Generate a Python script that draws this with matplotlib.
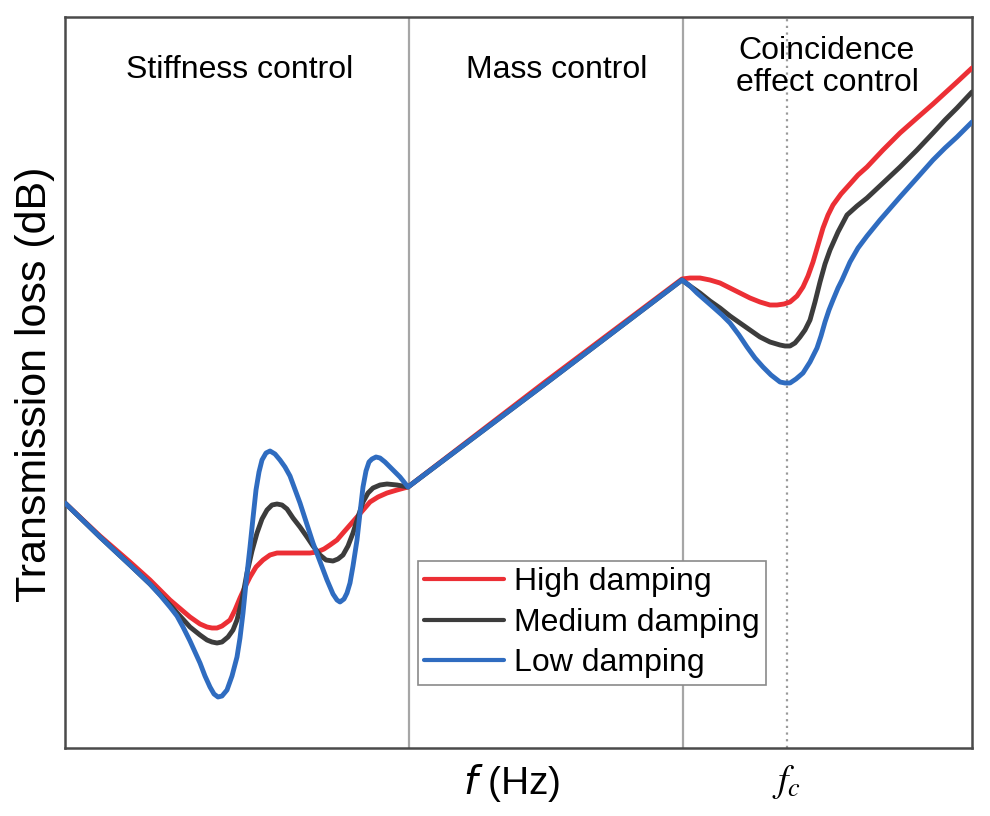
import matplotlib
matplotlib.use("Agg")
import matplotlib.pyplot as plt

plt.rcParams['font.family'] = ['Liberation Sans', 'DejaVu Sans']
plt.rcParams['mathtext.fontset'] = 'stix'

# Frequency axis (arbitrary units) and transmission loss (arbitrary units)
high_f = [65, 100, 130, 150, 170, 190, 200, 207, 212, 217, 222, 226, 230, 235, 240, 245, 250, 256, 263, 270, 277,
          290, 300, 310, 317, 324, 330, 337, 343, 350, 357, 364, 370, 378, 387, 397, 408,
          545, 682, 690, 700, 710, 720, 730, 740, 750, 760, 770, 777, 784, 790, 797, 803, 808, 813, 818, 823, 828,
          833, 841, 850, 858, 867, 883, 900, 917, 933, 945, 957, 972]
high_tl = [245, 212, 186, 168, 148, 131, 124, 121, 120, 120, 122, 125, 128, 138, 150, 161, 171, 181, 188, 193, 195,
           195, 195, 195, 196, 199, 203, 208, 215, 223, 231, 239, 246, 251, 255, 258, 261,
           366, 469, 470, 470, 468, 465, 460, 455, 450, 446, 443, 443, 444, 446, 452, 461, 472, 486, 503, 520, 533,
           543, 554, 564, 573, 581, 598, 615, 630, 644, 655, 666, 680]

med_f = [65, 100, 130, 150, 170, 190, 200, 207, 212, 217, 222, 228, 233, 237, 242, 247, 252, 257, 262, 267, 272,
         277, 282, 287, 293, 300, 307, 313, 320, 326, 333, 338, 343, 348, 353, 358, 363, 368, 373, 380, 387, 397, 408,
         545, 682, 690, 700, 710, 720, 730, 740, 750, 760, 770, 780, 785, 790, 795, 800, 805, 810, 815, 820, 825,
         830, 838, 847, 857, 867, 883, 900, 917, 933, 945, 957, 972]
med_tl = [245, 211, 183, 164, 143, 121, 113, 108, 106, 105, 106, 111, 118, 128, 148, 175, 197, 215, 229, 238, 243,
          244, 243, 239, 230, 221, 211, 202, 193, 188, 187, 189, 193, 202, 215, 231, 246, 255, 260, 263, 264, 263, 261,
          364, 468, 462, 455, 447, 440, 432, 425, 418, 411, 406, 403, 402, 402, 405, 411, 418, 428, 446, 466, 484,
          498, 516, 533, 542, 550, 565, 581, 598, 615, 628, 640, 656]

low_f = [65, 100, 130, 150, 160, 170, 177, 183, 190, 200, 205, 210, 214, 218, 222, 227, 232, 237, 240, 243, 246,
         250, 253, 256, 259, 262, 266, 270, 275, 280, 285, 290, 300, 313, 327, 333, 337, 340, 344, 347, 350, 353,
         357, 360, 363, 366, 369, 372, 376, 380, 385, 390, 400, 408,
         545, 682, 690, 697, 705, 713, 722, 730, 739, 747, 755, 763, 771, 780, 785, 790, 796, 803, 810, 817, 821,
         825, 829, 833, 838, 842, 850, 858, 867, 880, 900, 917, 933, 945, 957, 972]
low_tl = [245, 211, 183, 164, 153, 141, 132, 121, 107, 85, 72, 61, 54, 51, 52, 58, 72, 91, 110, 135, 165,
          201, 230, 258, 276, 288, 295, 297, 294, 288, 281, 272, 245, 205, 168, 154, 148, 146, 149, 155, 165, 182,
          208, 235, 261, 277, 286, 289, 291, 290, 286, 281, 271, 261,
          364, 468, 462, 455, 448, 441, 433, 425, 413, 401, 390, 381, 373, 366, 365, 365, 369, 375, 386, 400, 412,
          426, 438, 448, 460, 468, 486, 500, 512, 528, 551, 570, 588, 600, 611, 626]

region_bounds = [409, 683]
f_c = 787
region_labels = ["Stiffness control", "Mass control", "Coincidence\neffect control"]
region_label_x = [240, 557, 827]
series_labels = ["High damping", "Medium damping", "Low damping"]
colors = ["#ec2f35", "#3c3c3c", "#2f6cc0"]

fig = plt.figure(figsize=(9.9, 8.16), dpi=100)
ax = fig.add_axes([65 / 990, 1 - 748 / 816, 907 / 990, 731 / 816])
ax.set_xlim(65, 972)
ax.set_ylim(0, 731)

for xb in region_bounds:
    ax.axvline(xb, color="#a6a6a6", lw=1.6, zorder=1)
ax.axvline(f_c, color="#9a9a9a", lw=1.6, ls=(0, (1, 2)), zorder=1)

for xs, ys, lab, c in zip([high_f, med_f, low_f], [high_tl, med_tl, low_tl], series_labels, colors):
    ax.plot(xs, ys, color=c, lw=3.5, label=lab, solid_joinstyle='round', solid_capstyle='round', zorder=3)

ax.text(region_label_x[0], 678, region_labels[0], ha='center', va='center', fontsize=23)
ax.text(region_label_x[1], 678, region_labels[1], ha='center', va='center', fontsize=23)
ax.text(region_label_x[2], 681, region_labels[2], ha='center', va='center', fontsize=23, linespacing=1.12)

for s in ax.spines.values():
    s.set_color("#4a4a4a")
    s.set_linewidth(1.8)
ax.set_xticks([])
ax.set_yticks([])

fig.text(35 / 990, 1 - 384 / 816, "Transmission loss (dB)", rotation=90, ha='center', va='center', fontsize=31)
fig.text(512 / 990, 1 - 783 / 816, r"$\mathit{f}$ (Hz)", ha='center', va='center', fontsize=28,
         math_fontfamily='dejavusans')
fig.text(f_c / 990, 1 - 782 / 816, r"$f_c$", ha='center', va='center', fontsize=27)

leg = ax.legend(loc='upper left', bbox_to_anchor=((418 - 65) / 907, (748 - 561) / 731), borderaxespad=0,
                fontsize=23, handlelength=2.5, handletextpad=0.3, borderpad=0.2, labelspacing=0.33,
                fancybox=False, framealpha=1, edgecolor="#8a8a8a")
leg.get_frame().set_linewidth(1.2)
for h in leg.get_lines():
    h.set_linewidth(3.0)

fig.savefig("out.png", dpi=100)
